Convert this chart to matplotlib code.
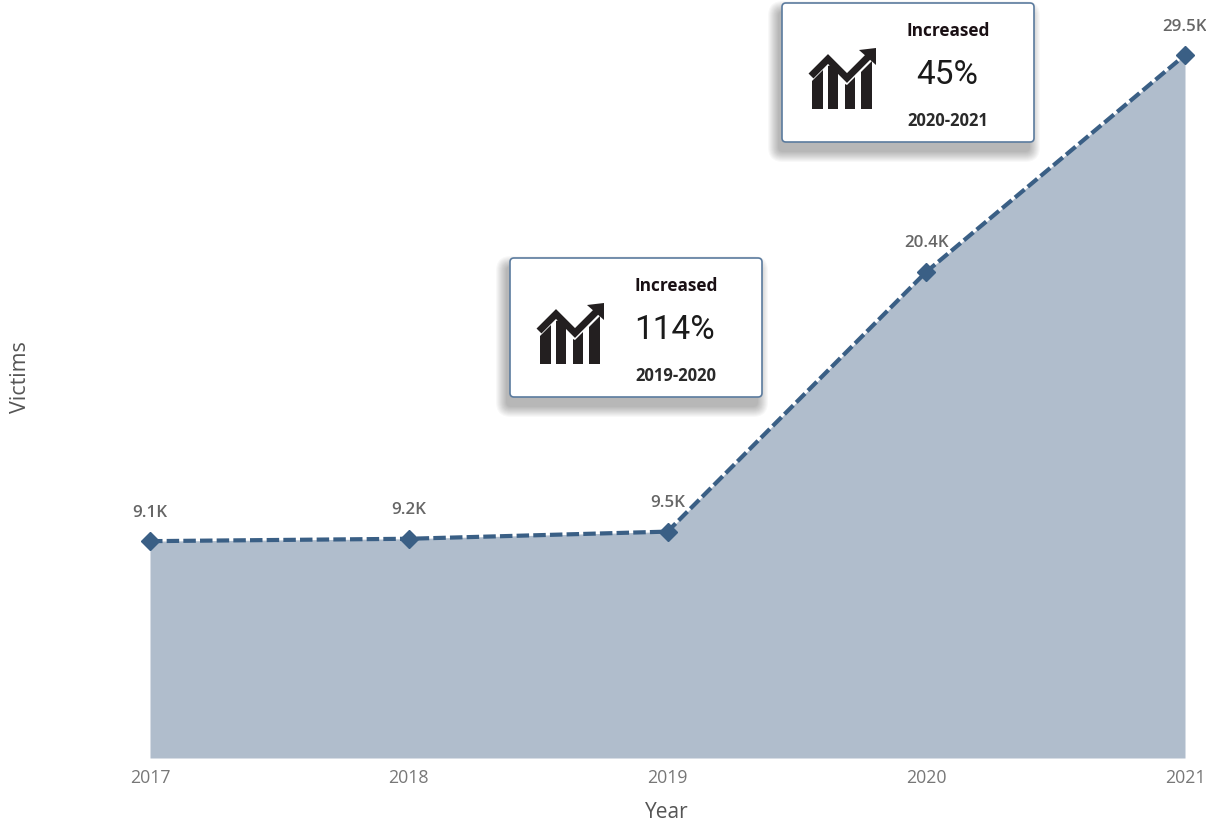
import matplotlib
matplotlib.use('Agg')
import matplotlib.pyplot as plt
from matplotlib.patches import FancyBboxPatch, Polygon

years = [2017, 2018, 2019, 2020, 2021]
victims = [9100, 9200, 9500, 20400, 29500]
value_labels = ['9.1K', '9.2K', '9.5K', '20.4K', '29.5K']

callout_titles = ['Increased', 'Increased']
callout_pcts = ['114%', '45%']
callout_periods = ['2019-2020', '2020-2021']

W, H = 1206, 823
LINE = '#3A5F85'
FILL = '#B0BDCC'
plt.rcParams['font.family'] = ['Open Sans', 'DejaVu Sans']

fig = plt.figure(figsize=(W / 100, H / 100), dpi=100, facecolor='white')

# plot area in pixels: 2017..2021 -> 150..1185, y=0 at 758, 23.83 px per 1K
ax = fig.add_axes([150 / W, 1 - 758 / H, 1035 / W, 758 / H])
ax.set_xlim(2017, 2021)
ax.set_ylim(0, 758 / 23.83 * 1000)
ax.fill_between(years, victims, 0, color=FILL, lw=0)
ax.plot(years, victims, color=LINE, lw=3.0, ls=(0, (3.0, 1.0)), zorder=3)
ax.plot(years, victims, ls='none', marker='D', ms=9.5, color=LINE, clip_on=False, zorder=4)
for x, y, lab in zip(years, victims, value_labels):
    ax.annotate(lab, (x, y), xytext=(0, 20.5), textcoords='offset points', ha='center', va='center',
                fontsize=12.2, fontweight='semibold', color='#666666', annotation_clip=False, zorder=5)
for s in ax.spines.values():
    s.set_visible(False)
ax.patch.set_alpha(0)
ax.set_yticks([])
ax.set_xticks(years)
ax.set_xticklabels([str(y) for y in years], fontsize=12.8, color='#777777')
ax.tick_params(axis='x', length=0, pad=8)

# overlay in pixel coords for the callouts and axis titles
ov = fig.add_axes([0, 0, 1, 1])
ov.set_xlim(0, W)
ov.set_ylim(H, 0)
ov.axis('off')
ov.patch.set_alpha(0)
ov.text(667, 813, 'Year', ha='center', va='center', fontsize=15, color='#555555')
ov.text(21, 377, 'Victims', ha='center', va='center', rotation=90, fontsize=15.5, color='#555555')


def callout(x0, y0, title, pct, period):
    w, h = 252, 139
    # soft drop shadow, stacked translucent boxes
    for grow in range(22, 0, -2):
        ov.add_patch(FancyBboxPatch((x0 - 3 - grow / 2, y0 + 9 - grow / 2), w + grow - 2, h + grow,
                                    boxstyle='round,pad=0,rounding_size=%d' % (4 + grow / 2),
                                    fc='black', ec='none', alpha=0.028, zorder=6))
    ov.add_patch(FancyBboxPatch((x0, y0), w, h, boxstyle='round,pad=0,rounding_size=4',
                                fc='white', ec='#5B7B9E', lw=1.2, zorder=7))
    ink = '#231F20'
    # icon, offsets from the box corner
    px = lambda pts: [(x0 + a, y0 + b) for a, b in pts]
    ov.plot(*zip(*px([(29, 73), (46, 56), (65, 75), (88, 52)])), color=ink, lw=5,
            solid_joinstyle='miter', solid_capstyle='butt', zorder=8)
    ov.add_patch(Polygon(px([(77, 47), (94, 45), (94, 62)]), fc=ink, ec='none', zorder=8))
    for bar in ([(30, 106), (30, 78), (41, 67), (41, 106)],
                [(46, 106), (46, 63), (49, 62), (56, 70), (56, 106)],
                [(63, 106), (63, 81), (65, 82), (73, 74), (73, 106)],
                [(79, 106), (79, 69), (90, 58), (90, 106)]):
        ov.add_patch(Polygon(px(bar), fc=ink, ec='none', zorder=8))
    ov.text(x0 + 166, y0 + 28, title, ha='center', va='center', fontsize=12.4, fontweight='bold',
            color='#1A1014', zorder=8)
    ov.text(x0 + 165, y0 + 72, pct, ha='center', va='center', fontsize=24, family=['Roboto', 'DejaVu Sans'],
            color='#1A1A1A', zorder=8)
    ov.text(x0 + 166, y0 + 118, period, ha='center', va='center', fontsize=12, fontweight='bold',
            color='#2A2A2A', zorder=8)


callout(510, 258, callout_titles[0], callout_pcts[0], callout_periods[0])
callout(782, 3, callout_titles[1], callout_pcts[1], callout_periods[1])

fig.savefig('out.png', dpi=100)
plt.close(fig)
